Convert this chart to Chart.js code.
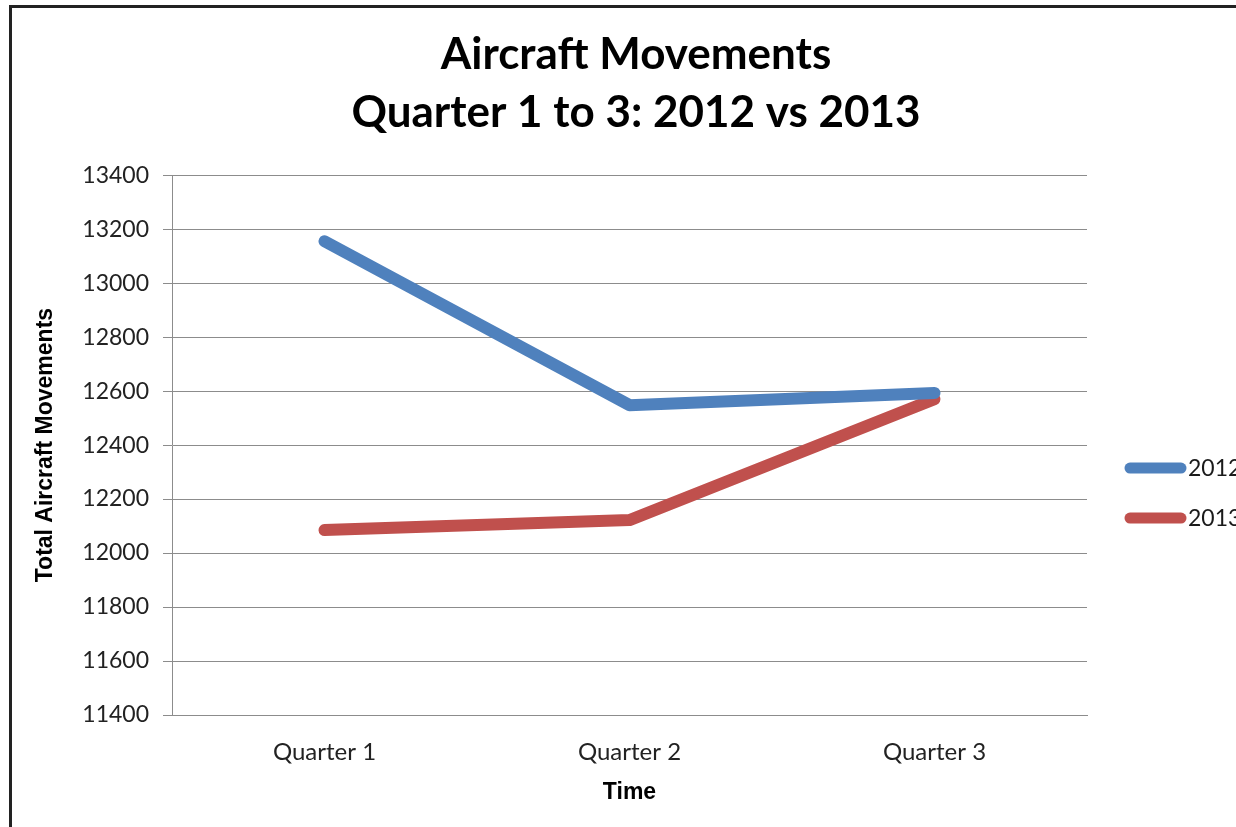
<!DOCTYPE html>
<html>
<head>
<meta charset="utf-8">
<script src="https://cdn.jsdelivr.net/npm/chart.js@4.4.1/dist/chart.umd.min.js"></script>
<style>
  html, body { margin: 0; padding: 0; background: #fff; overflow: hidden; }
  #frame { position: absolute; left: 9px; top: 5px; width: 1300px; height: 900px;
           border: 3px solid #222; box-sizing: border-box; }
  #wrap { position: absolute; left: 0; top: 0; width: 1272px; height: 827px; }
</style>
</head>
<body>
<div id="frame"></div>
<div id="wrap"><canvas id="myChart"></canvas></div>
<script>
const categories = ['Quarter 1', 'Quarter 2', 'Quarter 3'];
const seriesNames = ['2012', '2013'];
const values2012 = [13155, 12548, 12593];
const values2013 = [12085, 12122, 12570];
const yTicks = [11400, 11600, 11800, 12000, 12200, 12400, 12600, 12800, 13000, 13200, 13400];

const FONT = 'Lato, "Open Sans", sans-serif';
const AXIS_FONT = '"Liberation Sans", Arial, sans-serif';

// legend drawn to the right of the plot, Excel style
const sideLegend = {
  id: 'sideLegend',
  afterDraw(chart) {
    const { ctx, chartArea } = chart;
    const x0 = chartArea.right + 38;
    let y = (chartArea.top + chartArea.bottom) / 2 + 23;
    ctx.save();
    chart.data.datasets.forEach((ds) => {
      ctx.strokeStyle = ds.borderColor;
      ctx.lineWidth = 11;
      ctx.lineCap = 'round';
      ctx.beginPath();
      ctx.moveTo(x0 + 5, y);
      ctx.lineTo(x0 + 56, y);
      ctx.stroke();
      ctx.fillStyle = '#1a1a1a';
      ctx.font = '23px ' + FONT;
      ctx.textBaseline = 'middle';
      ctx.textAlign = 'left';
      ctx.fillText(ds.label, x0 + 63, y);
      y += 50;
    });
    ctx.restore();
  }
};

new Chart('myChart', {
  type: 'line',
  data: {
    labels: categories,
    datasets: [{
      label: seriesNames[0],
      data: values2012,
      borderColor: '#4F81BD',
      backgroundColor: '#4F81BD',
      borderWidth: 12,
      borderCapStyle: 'round',
      borderJoinStyle: 'round',
      pointRadius: 0,
      tension: 0
    }, {
      label: seriesNames[1],
      data: values2013,
      borderColor: '#C0504D',
      backgroundColor: '#C0504D',
      borderWidth: 12,
      borderCapStyle: 'round',
      borderJoinStyle: 'round',
      pointRadius: 0,
      tension: 0
    }]
  },
  options: {
    responsive: true,
    maintainAspectRatio: false,
    animation: false,
    layout: { padding: 0 },
    plugins: {
      legend: { display: false },
      tooltip: { enabled: false },
      title: {
        display: true,
        text: ['Aircraft Movements', 'Quarter 1 to 3: 2012 vs 2013'],
        color: '#000',
        font: { family: FONT, size: 44, weight: 'bold', lineHeight: 1.32 },
        padding: { top: 26, bottom: 33 }
      }
    },
    scales: {
      x: {
        offset: true,
        grid: { display: false, drawTicks: false },
        border: { display: true, color: '#8c8c8c', width: 1 },
        ticks: { color: '#222', font: { family: FONT, size: 24 }, padding: 23 },
        title: {
          display: true, text: 'Time', color: '#000',
          font: { family: AXIS_FONT, size: 23, weight: 'bold' },
          padding: { top: 4, bottom: 21 }
        },
        afterFit(scale) { scale.height = 112; }
      },
      y: {
        min: yTicks[0],
        max: yTicks[yTicks.length - 1],
        afterBuildTicks(scale) { scale.ticks = yTicks.map(v => ({ value: v })); },
        grid: { color: '#8c8c8c', lineWidth: 1, drawTicks: true, tickLength: 9, tickColor: '#8c8c8c' },
        border: { display: true, color: '#8c8c8c', width: 1 },
        ticks: {
          color: '#222', font: { family: FONT, size: 23 }, padding: 14,
          callback: (v) => String(v)
        },
        title: {
          display: true, text: 'Total Aircraft Movements', color: '#000',
          font: { family: AXIS_FONT, size: 23, weight: 'bold' },
          padding: { top: 32 }
        },
        afterFit(scale) { scale.width = 172; }
      },
      legendSpace: {
        type: 'linear',
        position: 'right',
        display: true,
        grid: { display: false, drawTicks: false },
        border: { display: false },
        ticks: { display: false },
        afterFit(scale) { scale.width = 185; }
      }
    }
  },
  plugins: [sideLegend]
});
</script>
</body>
</html>
